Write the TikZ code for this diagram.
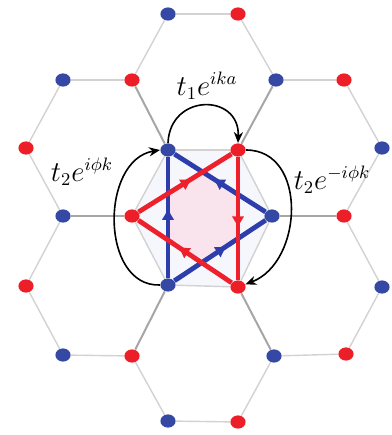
\documentclass[tikz,border=0pt]{standalone}
\usetikzlibrary{arrows.meta, shapes.geometric, decorations.markings, backgrounds}

\definecolor{siteblue}{RGB}{52,72,164}
\definecolor{sitered}{RGB}{236,30,40}
\definecolor{triblue}{RGB}{45,62,172}
\definecolor{trired}{RGB}{238,32,44}
\definecolor{hexfill}{RGB}{246,247,252}
\definecolor{starfill}{RGB}{249,228,238}

\begin{document}
\begin{tikzpicture}[
    x=0.5pt, y=-0.5pt,
    bsite/.style={
        ellipse,
        fill=siteblue,
        minimum width=7.6pt,
        minimum height=6.6pt,
        inner sep=0pt
    },
    rsite/.style={
        bsite,
        fill=sitered
    },
    bond/.style={
        draw=gray!35,
        line width=0.7pt
    },
    link/.style={
        draw=gray!70,
        line width=1pt
    },
    tri/.style={
        line width=2.4pt,
        postaction=decorate,
        decoration={markings,
            mark=at position 0.58 with {\arrow{Latex[length=6pt,width=6.5pt]}}}
    },
    hop/.style={
        ->,
        >={Stealth[length=5.5pt,width=4.6pt]},
        line width=0.8pt
    },
    lbl/.style={font=\fontsize{13.5}{16}\selectfont}
]
\useasboundingbox (0,0) rectangle (392,435);

% Sites
\node[bsite] (b1) at (168,14) {};
\node[rsite] (r1) at (238,14) {};
\node[bsite] (b2) at (63,80) {};
\node[rsite] (r2) at (132,80) {};
\node[bsite] (b3) at (276,80) {};
\node[rsite] (r3) at (344,80) {};
\node[rsite] (r4) at (26,148) {};
\node[bsite] (bA) at (168,150) {};
\node[rsite] (rB) at (238,150) {};
\node[bsite] (b4) at (382,148) {};
\node[bsite] (b5) at (63,216) {};
\node[rsite] (rA) at (132,216) {};
\node[bsite] (bB) at (272,216) {};
\node[rsite] (r5) at (344,216) {};
\node[rsite] (r6) at (26,286) {};
\node[bsite] (bC) at (168,285) {};
\node[rsite] (rC) at (238,287) {};
\node[bsite] (b6) at (382,287) {};
\node[bsite] (b7) at (63,355) {};
\node[rsite] (r7) at (132,356) {};
\node[bsite] (b8) at (274,356) {};
\node[rsite] (r8) at (346,354) {};
\node[bsite] (b9) at (168,421) {};
\node[rsite] (r9) at (238,422) {};

\begin{scope}[on background layer]
% Shading of the central cell
\fill[hexfill] (bA.center) -- (rB.center) -- (bB.center) -- (rC.center)
    -- (bC.center) -- (rA.center) -- cycle;
\fill[starfill] (intersection of bA--bC and rA--rB)
    -- (intersection of rA--rB and bA--bB)
    -- (intersection of bA--bB and rB--rC)
    -- (intersection of rB--rC and bC--bB)
    -- (intersection of bC--bB and rA--rC)
    -- (intersection of rA--rC and bA--bC) -- cycle;

% Honeycomb bonds
\draw[bond] (b1) -- (r1);
\draw[bond] (b1) -- (r2);
\draw[bond] (r1) -- (b3);
\draw[bond] (b2) -- (r2);
\draw[bond] (b3) -- (r3);
\draw[bond] (b2) -- (r4);
\draw[bond] (r3) -- (b4);
\draw[bond] (r4) -- (b5);
\draw[bond] (b4) -- (r5);
\draw[bond] (b5) -- (r6);
\draw[bond] (r5) -- (b6);
\draw[bond] (r6) -- (b7);
\draw[bond] (b6) -- (r8);
\draw[bond] (b7) -- (r7);
\draw[bond] (b8) -- (r8);
\draw[bond] (r7) -- (b9);
\draw[bond] (b9) -- (r9);
\draw[bond] (r9) -- (b8);
\draw[bond] (bA) -- (rB);
\draw[bond] (rB) -- (bB);
\draw[bond] (bB) -- (rC);
\draw[bond] (rC) -- (bC);
\draw[bond] (bC) -- (rA);
\draw[bond] (rA) -- (bA);

% Bonds leaving the central cell
\draw[link] (r2) -- (bA);
\draw[link] (b3) -- (rB);
\draw[link] (b5) -- (rA);
\draw[link] (bB) -- (r5);
\draw[link] (bC) -- (r7);
\draw[link] (rC) -- (b8);

% Next-nearest-neighbour triangles
\draw[tri, triblue] (bC) -- (bA);
\draw[tri, triblue] (bB) -- (bA);
\draw[tri, triblue] (bC) -- (bB);
\draw[tri, trired] (rA) -- (rB);
\draw[tri, trired] (rB) -- (rC);
\draw[tri, trired] (rC) -- (rA);
\end{scope}

% Hopping arcs
\draw[hop] (bA.north) .. controls +(2,-50) and +(2,-50) .. (rB.north);
\draw[hop] (bC.west) .. controls +(-60,2) and +(-60,10) .. (bA.west);
\draw[hop] (rB.east) .. controls +(62,0) and +(58,-22) .. (rC.20);

% Labels
\node[lbl] (tone) at (207,86) {$t_1e^{ika}$};
\node[lbl] (tleft) at (82,172) {$t_2e^{i\phi k}$};
\node[lbl] (tright) at (332,180) {$t_2e^{-i\phi k}$};

\end{tikzpicture}
\end{document}
